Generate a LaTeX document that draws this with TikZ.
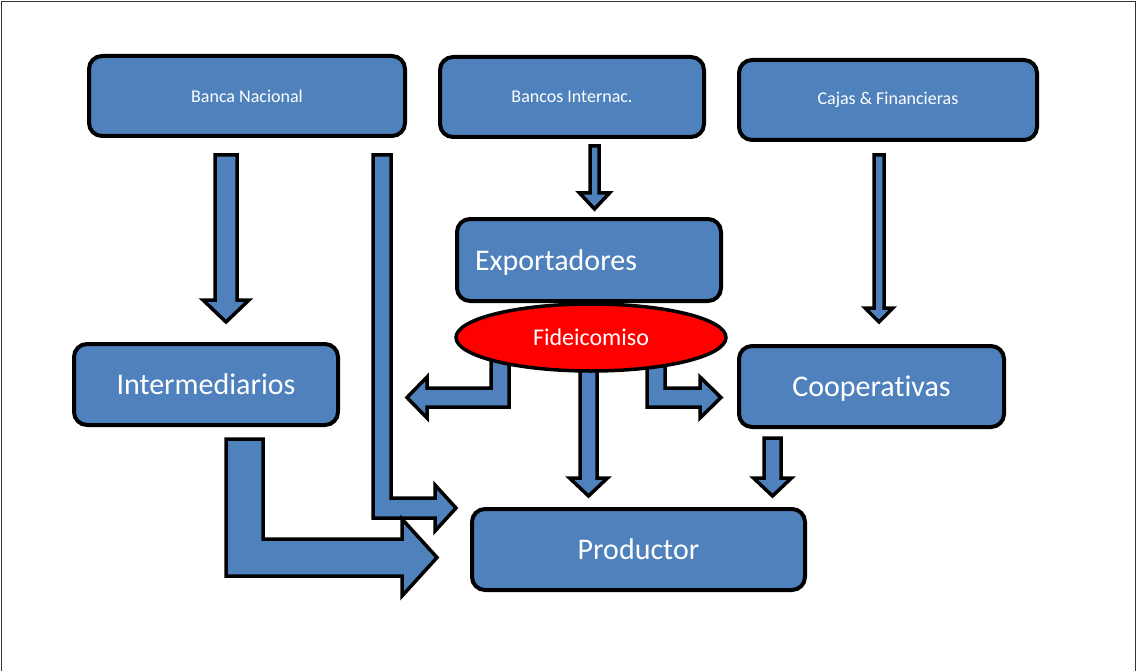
\documentclass[tikz,border=0pt]{standalone}
\usepackage{fontspec}
\setmainfont[Ligatures=NoCommon]{Carlito}
\usetikzlibrary{shapes.geometric}
\definecolor{boxblue}{HTML}{4F81BD}
\definecolor{trustred}{HTML}{FF0000}

% vertical block arrow pointing down: x, y top, y tip, shaft half width, head half width, head length
\newcommand\blockdown[6]{%
  \draw[blockarrow] (#1-#4,#2) -- (#1+#4,#2) -- (#1+#4,#3-#6) -- (#1+#5,#3-#6)
    -- (#1,#3) -- (#1-#5,#3-#6) -- (#1-#4,#3-#6) -- cycle;}

\begin{document}
\begin{tikzpicture}[x=1pt,y=-1pt,
  box/.style={draw=black, line width=4pt, fill=boxblue, rounded corners=13pt,
    inner sep=0pt, text=white},
  smalltext/.style={font=\fontsize{18}{20}\selectfont},
  bigtext/.style={font=\fontsize{30}{34}\selectfont, text depth=0pt},
  blockarrow/.style={draw=black, line width=3.5pt, fill=boxblue, line join=miter},
  trust/.style={ellipse, draw=black, line width=3.5pt, fill=trustred, inner sep=0pt,
    text=white, font=\fontsize{24}{28}\selectfont}]
\useasboundingbox (0,0) rectangle (1137,671);

% page frame
\draw[line width=1.5pt, black!80] (1.5,672) -- (1.5,1.5) -- (1135.5,1.5) -- (1135.5,672);

% lenders
\node[box, smalltext, minimum width=316pt, minimum height=80pt] (banca) at (247,96) {Banca Nacional};
\node[box, smalltext, minimum width=264pt, minimum height=80pt] (bancos) at (572,97) {Bancos Internac.};
\node[box, smalltext, minimum width=298pt, minimum height=80pt] (cajas) at (888,100) {Cajas \& Financieras};

% intermediate actors
\node[box, bigtext, minimum height=82pt, text width=228pt, inner xsep=18pt, align=left] (export) at (589,260) {Exportadores};
\node[box, bigtext, minimum width=264pt, minimum height=81pt] (interm) at (206,384.5) {Intermediarios};
\node[box, bigtext, minimum width=265pt, minimum height=81pt] (coop) at (871.5,386.5) {Cooperativas};
\node[box, bigtext, minimum width=333pt, minimum height=81pt] (prod) at (638.5,549.5) {Productor};

% straight flows
\blockdown{226}{155}{322}{11}{23}{22}
\blockdown{594.5}{146}{209}{4.5}{15}{16}
\blockdown{879}{155}{322}{5}{14}{14}
\blockdown{588.5}{360}{496}{8.5}{19}{18}
\blockdown{772.5}{438}{496}{8.5}{19}{18}

% Banca Nacional straight to the producer
\draw[blockarrow] (373,155) -- (391,155) -- (391,498) -- (435,498) -- (435,485)
  -- (456,508) -- (435,531) -- (435,518) -- (373,518) -- cycle;

% intermediaries to the producer
\draw[blockarrow] (226,439) -- (263,439) -- (263,539) -- (402,539) -- (402,519)
  -- (437,557.5) -- (402,596) -- (402,576) -- (226,576) -- cycle;

% trust fund branching left and right
\draw[blockarrow] (491,360) -- (509,360) -- (509,407) -- (427,407) -- (427,418)
  -- (407,397.5) -- (427,377) -- (427,388) -- (491,388) -- cycle;
\draw[blockarrow] (647,360) -- (665,360) -- (665,388) -- (700,388) -- (700,377)
  -- (721,397.5) -- (700,418) -- (700,407) -- (647,407) -- cycle;

% trust fund
\node[trust, minimum width=270pt, minimum height=67pt] (fid) at (591,337.5) {Fideicomiso};
\end{tikzpicture}
\end{document}
